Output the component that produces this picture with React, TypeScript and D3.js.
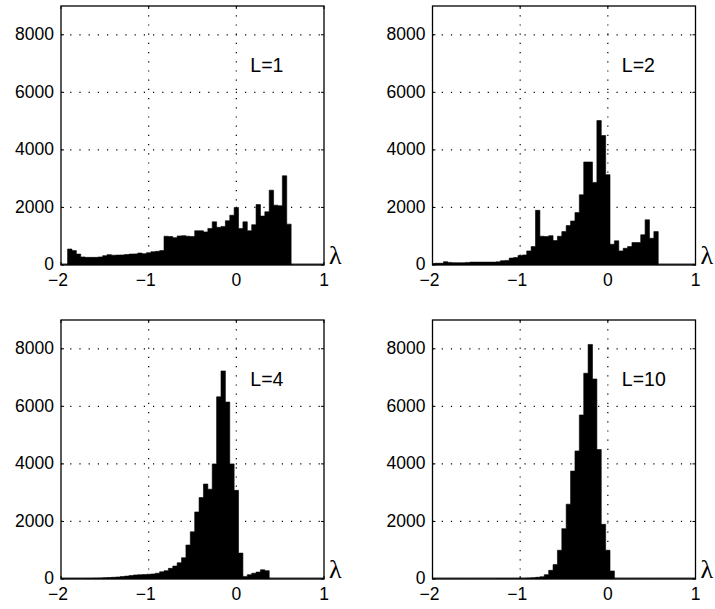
import * as d3 from 'd3';

// histogram bin centres (bin width 0.05)
const binCenters = [
  -2, -1.95, -1.9, -1.85, -1.8, -1.75, -1.7, -1.65, -1.6, -1.55, -1.5, -1.45, -1.4, -1.35, -1.3,
  -1.25, -1.2, -1.15, -1.1, -1.05, -1, -0.95, -0.9, -0.85, -0.8, -0.75, -0.7, -0.65, -0.6, -0.55,
  -0.5, -0.45, -0.4, -0.35, -0.3, -0.25, -0.2, -0.15, -0.1, -0.05, 0, 0.05, 0.1, 0.15, 0.2, 0.25,
  0.3, 0.35, 0.4, 0.45, 0.5, 0.55, 0.6, 0.65, 0.7, 0.75, 0.8, 0.85, 0.9, 0.95, 1,
];
const binWidth = 0.05;

const countsL1 = [
  0, 0, 555, 500, 380, 280, 265, 265, 265, 280, 325, 360, 340, 345, 350, 365, 380, 385, 415, 395,
  430, 460, 475, 500, 1000, 990, 950, 1010, 1020, 1000, 990, 1190, 1190, 1150, 1270, 1500, 1310,
  1340, 1540, 1730, 2000, 1270, 1500, 1190, 1400, 2100, 1700, 1850, 2600, 2080, 2060, 3100, 1420,
  0, 0, 0, 0, 0, 0, 0, 0,
];
const countsL2 = [
  50, 60, 60, 115, 90, 80, 80, 80, 90, 100, 100, 100, 100, 100, 100, 110, 150, 160, 240, 260, 330,
  350, 490, 640, 1900, 1000, 990, 1020, 850, 1000, 1160, 1370, 1530, 1820, 2440, 3580, 3580, 2870,
  5020, 4500, 3140, 720, 840, 490, 580, 640, 780, 780, 1050, 1570, 930, 1160,
  0, 0, 0, 0, 0, 0, 0, 0, 0,
];
const countsL4 = [
  5, 5, 5, 10, 10, 10, 15, 20, 25, 30, 40, 50, 60, 70, 85, 100, 120, 140, 150, 155, 165, 175, 200,
  250, 290, 370, 450, 565, 740, 1180, 1640, 2330, 2830, 3300, 3120, 4000, 6330, 7230, 6150, 4000,
  3080, 900, 90, 150, 200, 240, 320, 290,
  0, 0, 0, 0, 0, 0, 0, 0, 0, 0, 0, 0, 0,
];
const countsL10 = [
  0, 0, 0, 0, 0, 0, 0, 0, 0, 0, 0, 0, 0, 0, 0, 5, 5, 8, 10, 12, 15, 20, 30, 40, 60, 80, 150, 300,
  500, 1000, 1750, 2600, 3750, 4450, 5700, 7150, 8150, 6950, 4500, 1900, 1000, 280,
  0, 0, 0, 0, 0, 0, 0, 0, 0, 0, 0, 0, 0, 0, 0, 0, 0, 0, 0,
];

const panelLabels = ['L=1', 'L=2', 'L=4', 'L=10'];
const panelCounts = [countsL1, countsL2, countsL4, countsL10];

const xTicks = [-2, -1, 0, 1];
const xTickLabels = ['\u22122', '\u22121', '0', '1'];
const yTicks = [0, 2000, 4000, 6000, 8000];
const yTickLabels = ['0', '2000', '4000', '6000', '8000'];
const xLabel = '\u03bb';

// layout
const W = 263;
const H = 259;
const lefts = [61, 432.5];
const tops = [6, 320];
const font = "'Liberation Sans', Arial, sans-serif";

function Panel({ idx, left, top }: { idx: number; left: number; top: number }) {
  const x = d3.scaleLinear().domain([-2, 1]).range([0, W]);
  const y = d3.scaleLinear().domain([0, 9000]).range([H, 0]);
  const counts = panelCounts[idx];
  const clipId = `clip-${idx}`;

  // step outline of the histogram, one point per left bin edge plus the last right edge
  const pts: [number, number][] = binCenters.map((c, k) => [c - binWidth / 2, counts[k]]);
  pts.push([binCenters[binCenters.length - 1] + binWidth / 2, counts[counts.length - 1]]);
  const area = d3.area<[number, number]>()
    .x(d => x(d[0]))
    .y0(H)
    .y1(d => y(d[1]))
    .curve(d3.curveStepAfter);

  return (
    <g transform={`translate(${left},${top})`}>
      <defs>
        <clipPath id={clipId}>
          <rect x={0} y={0} width={W} height={H} />
        </clipPath>
      </defs>

      {/* dotted grid */}
      {xTicks.slice(1, -1).map(t => (
        <line key={'gx' + t} x1={x(t)} x2={x(t)} y1={0} y2={H}
          stroke="#000" strokeWidth={1.2} strokeDasharray="1.2 8" />
      ))}
      {yTicks.slice(1).map(t => (
        <line key={'gy' + t} x1={0} x2={W} y1={y(t)} y2={y(t)}
          stroke="#000" strokeWidth={1.2} strokeDasharray="1.2 8" />
      ))}

      {/* histogram */}
      <path d={area(pts) ?? ''} clipPath={`url(#${clipId})`} fill="#000" stroke="#000" strokeWidth={0.6} />

      {/* box */}
      <rect x={0} y={0} width={W} height={H} fill="none" stroke="#000" strokeWidth={1.3} />
      <line x1={0} x2={W} y1={H - 1} y2={H - 1} stroke="#000" strokeWidth={0.8} />

      {/* inward ticks */}
      {xTicks.map(t => (
        <g key={'tx' + t}>
          <line x1={x(t)} x2={x(t)} y1={H} y2={H - 3} stroke="#000" />
          <line x1={x(t)} x2={x(t)} y1={0} y2={3} stroke="#000" />
        </g>
      ))}
      {yTicks.map(t => (
        <g key={'ty' + t}>
          <line x1={0} x2={3} y1={y(t)} y2={y(t)} stroke="#000" />
          <line x1={W} x2={W - 3} y1={y(t)} y2={y(t)} stroke="#000" />
        </g>
      ))}

      {/* tick labels */}
      {yTicks.map((t, i) => (
        <text key={'ly' + t} x={-7} y={y(t) - 1} dy="0.36em" textAnchor="end"
          fontFamily={font} fontSize={17.5}>{yTickLabels[i]}</text>
      ))}
      {xTicks.map((t, i) => (
        <text key={'lx' + t} x={x(t) - (t < 0 ? 3 : 0)} y={H + 20.5} textAnchor="middle"
          fontFamily={font} fontSize={17.5}>{xTickLabels[i]}</text>
      ))}

      {/* panel label */}
      <text x={x(0.16)} y={y(6700)} fontFamily={font} fontSize={19.5}>{panelLabels[idx]}</text>

      {/* lambda axis label */}
      <text x={W + 5} y={H - 1} fontFamily="'Liberation Serif', 'DejaVu Serif', serif" fontSize={26}>
        {xLabel}
      </text>
    </g>
  );
}

export default function App() {
  return (
    <svg width={715} height={609} style={{ position: 'absolute', left: 0, top: 0, background: '#fff' }}>
      <rect width={715} height={609} fill="#fff" />
      {panelLabels.map((_, i) => (
        <Panel key={i} idx={i} left={lefts[i % 2]} top={tops[Math.floor(i / 2)]} />
      ))}
    </svg>
  );
}
